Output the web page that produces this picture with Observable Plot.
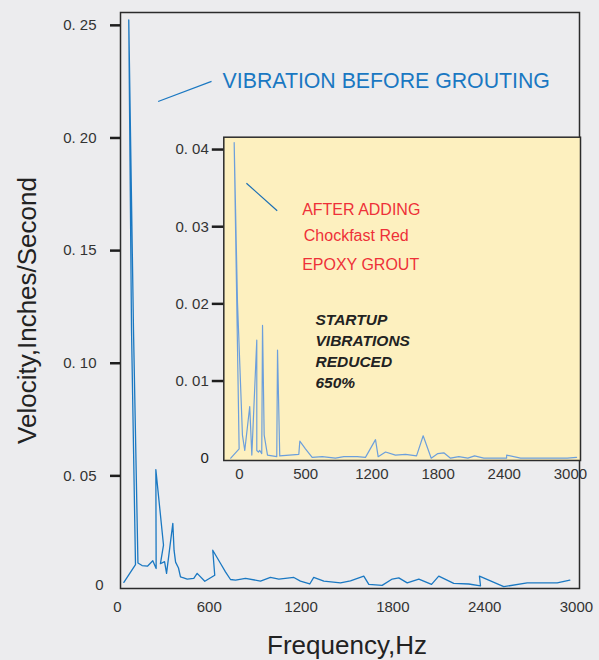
<!DOCTYPE html>
<html><head><meta charset="utf-8">
<script src="https://cdn.jsdelivr.net/npm/d3@7"></script>
<script src="https://cdn.jsdelivr.net/npm/@observablehq/plot@0.6"></script>
<style>
html,body{margin:0;padding:0;background:#ECECEE;}
#wrap{position:relative;width:599px;height:660px;overflow:hidden;background:#ECECEE;}
#inset{position:absolute;left:160px;top:120px;}
</style></head><body><div id="wrap"><div id="main"></div><div id="inset"></div></div>
<script>
// Before grouting (main chart)
const beforeFreq = [42,118,92,74,105,134,161,196,231,253,251,301,281,308,321,362,370,380,399,412,423,456,499,521,571,636,623,674,706,739,772,837,935,1000,1055,1153,1196,1257,1283,1349,1458,1523,1610,1643,1730,1796,1839,1894,1970,2053,2100,2198,2296,2373,2366,2525,2678,2874,2957];
const beforeVel = [0.0027,0.0106,0.1146,0.2524,0.1146,0.0113,0.0102,0.0099,0.0123,0.0089,0.0528,0.0193,0.0110,0.0119,0.0067,0.0289,0.0170,0.0117,0.0091,0.0052,0.0049,0.0042,0.0045,0.0067,0.0032,0.0059,0.0170,0.0111,0.0074,0.0040,0.0037,0.0045,0.0033,0.0049,0.0042,0.0049,0.0033,0.0020,0.0049,0.0033,0.0025,0.0034,0.0055,0.0018,0.0014,0.0042,0.0047,0.0025,0.0042,0.0018,0.0055,0.0023,0.0020,0.0012,0.0055,0.0008,0.0025,0.0025,0.0037];
// After grouting (inset)
const afterFreq = [-79,-3,-48,-18,27,48,93,112,157,157,172,184,202,209,224,254,338,345,365,538,547,598,659,750,870,946,1067,1142,1233,1257,1324,1414,1505,1605,1665,1738,1798,1852,1913,1988,2070,2131,2215,2421,2422,2548,2790,2971,3055];
const afterVel = [0,0.0012,0.0409,0.0202,0.0030,0.0010,0.0067,0.0004,0.0153,0.0010,0.0008,0.0010,0.0006,0.0172,0.0030,0.0004,0.0002,0.0140,0.0003,0.0005,0.0022,0.0012,0.0001,0.0002,0,0.0002,0.0002,0.0001,0.0024,0.0002,0.0008,0.0004,0.0005,0.0003,0.0029,0,0.0006,0.0007,0,0.0002,0,0.0003,0,0,0.0004,0,0,0,0.0001];

const mainYTicks = [0.05,0.10,0.15,0.20,0.25];
const mainXTicks = [0,600,1200,1800,2400,3000];
const insetYTicks = [0.01,0.02,0.03,0.04];
const insetXTicks = [0,600,1200,1800,2400,3000];
const insetXTickLabels = ["0","500","1200","1800","2400","3000"];

const mainTitle = "VIBRATION BEFORE GROUTING";
const redLines = ["AFTER ADDING","Chockfast Red","EPOXY GROUT"];
const boldText = "STARTUP\nVIBRATIONS\nREDUCED\n650%";
const yLabel = "Velocity,Inches/Second";
const xLabel = "Frequency,Hz";

const FONT = "'Liberation Sans', Arial, Helvetica, sans-serif";
const BLUE = "#1a78c2";
const RED = "#ee3038";
const fmtY = d => d === 0 ? "0" : "0. " + String(Math.round(d*100)).padStart(2,"0");
const fmtX = d => String(d);
const insetLabelMap = new Map(insetXTicks.map((t,i)=>[t, insetXTickLabels[i]]));

const before = beforeFreq.map((f,i)=>({f, v: beforeVel[i]}));
const after = afterFreq.map((f,i)=>({f, v: afterVel[i]}));

const main = Plot.plot({
  width: 599, height: 660,
  marginLeft: 120, marginRight: 20, marginTop: 12, marginBottom: 72,
  style: {background: "transparent", fontFamily: FONT, overflow: "visible"},
  x: {domain: [20, 3020]},
  y: {domain: [0, 0.2557]},
  marks: [
    Plot.frame({stroke: "#2b2b2b", strokeWidth: 1.5}),
    Plot.axisY(mainYTicks, {tickSize: 10, tickPadding: 14, stroke: "#1e1e1e", strokeWidth: 2.5, fill: "#333", fontSize: 15, tickFormat: fmtY, label: null}),
    Plot.axisY([0], {tickSize: 0, tickPadding: 17, dy: -3, fill: "#333", fontSize: 15, tickFormat: fmtY, label: null}),
    Plot.axisX(mainXTicks, {tickSize: 0, tickPadding: 13, fill: "#333", fontSize: 15, tickFormat: fmtX, label: null}),
    Plot.line(before, {x: "f", y: "v", stroke: BLUE, strokeWidth: 1.3}),
    Plot.link([0], {x1: 266, y1: 0.2162, x2: 615, y2: 0.2251, stroke: BLUE, strokeWidth: 1.2}),
    Plot.text([mainTitle], {x: 687, y: 0.2253, textAnchor: "start", fontSize: 21.3, fill: BLUE}),
    Plot.text([yLabel], {frameAnchor: "left", textAnchor: "middle", lineAnchor: "middle", dx: -93, dy: 10, rotate: -90, fontSize: 26, fill: "#222"}),
    Plot.text([xLabel], {frameAnchor: "bottom", textAnchor: "middle", lineAnchor: "middle", dx: -3, dy: 57, fontSize: 26, fill: "#222"})
  ]
});
document.getElementById("main").appendChild(main);

const inset = Plot.plot({
  width: 439, height: 370,
  marginLeft: 63.3, marginRight: 19, marginTop: 16.7, marginBottom: 30,
  style: {background: "transparent", fontFamily: FONT, overflow: "visible"},
  x: {domain: [-142, 3091]},
  y: {domain: [-0.0003, 0.0416]},
  marks: [
    Plot.frame({fill: "#FDF0BF", stroke: "#2b2b2b", strokeWidth: 1.5}),
    Plot.axisY(insetYTicks, {tickSize: 11.5, tickPadding: 3.5, stroke: "#1e1e1e", strokeWidth: 2.5, fill: "#333", fontSize: 15, tickFormat: fmtY, label: null}),
    Plot.axisY([0], {tickSize: 0, tickPadding: 15, fill: "#222", fontSize: 15, tickFormat: fmtY, label: null}),
    Plot.axisX(insetXTicks, {tickSize: 0, tickPadding: 8, fill: "#333", fontSize: 15, tickFormat: d => insetLabelMap.get(d), label: null}),
    Plot.line(after, {x: "f", y: "v", stroke: "#6c9fdc", strokeWidth: 1.2}),
    Plot.link([0], {x1: 63, y1: 0.03564, x2: 342, y2: 0.03206, stroke: "#1b6fb5", strokeWidth: 1.2}),
    Plot.text([redLines[0]], {x: 568, y: 0.03223, textAnchor: "start", fontSize: 16, fill: RED}),
    Plot.text([redLines[1]], {x: 583, y: 0.02876, textAnchor: "start", fontSize: 16, fill: RED}),
    Plot.text([redLines[2]], {x: 568, y: 0.02503, textAnchor: "start", fontSize: 16, fill: RED}),
    Plot.text([boldText], {x: 689, y: 0.01925, textAnchor: "start", lineAnchor: "top", lineHeight: 1.36, fontSize: 15.5, fontWeight: "bold", fontStyle: "italic", fill: "#222"})
  ]
});
document.getElementById("inset").appendChild(inset);
</script></body></html>
